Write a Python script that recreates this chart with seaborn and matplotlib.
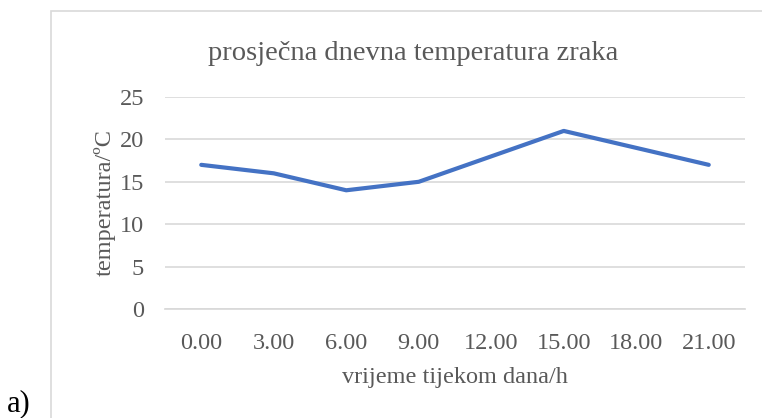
import pandas as pd
import matplotlib.pyplot as plt
import seaborn as sns
from matplotlib.patches import Rectangle

sns.set_theme(style="white")
plt.rcParams['font.family'] = ['Liberation Serif', 'DejaVu Serif']

# data
hours = ["0.00", "3.00", "6.00", "9.00", "12.00", "15.00", "18.00", "21.00"]
temps = [17, 16, 14, 15, 18, 21, 19, 17]

df = pd.DataFrame({"sat": hours, "temp": temps})

grey = "#595959"

fig = plt.figure(figsize=(7.62, 4.18), dpi=100)
ax = fig.add_axes([165/762, 1 - 309/418, 580/762, 212/418])

# chart border (excel style), runs off the right and bottom edge
fig.patches.append(Rectangle((51/762, -0.1), 1.0, 1 - 11/418 + 0.1,
                             transform=fig.transFigure, fill=False,
                             edgecolor="#D9D9D9", linewidth=1.2))

sns.lineplot(data=df, x="sat", y="temp", ax=ax, color="#4472C4",
             linewidth=3, sort=False, solid_capstyle="round")

ax.set_ylim(0, 25)
ax.set_xlim(-0.5, 7.5)
ax.set_yticks([0, 5, 10, 15, 20, 25])
ax.yaxis.grid(True, color="#D9D9D9", linewidth=1.2)
ax.set_axisbelow(True)
for s in ax.spines.values():
    s.set_visible(False)
ax.spines["bottom"].set_visible(True)
ax.spines["bottom"].set_color("#D9D9D9")
ax.tick_params(axis="both", length=0, labelsize=17.5, labelcolor=grey)
ax.tick_params(axis="x", pad=17)
ax.tick_params(axis="y", pad=15)

ax.set_xlabel("vrijeme tijekom dana/h", fontsize=17.5, color=grey, labelpad=10)
ax.set_ylabel("temperatura/ºC", fontsize=17.5, color=grey, labelpad=3)
fig.text(413/762, 1 - 53/418, "prosječna dnevna temperatura zraka",
         ha="center", va="center", fontsize=20.5, color=grey)
fig.text(7/762, 1 - 404/418, "a)", ha="left", va="center", fontsize=22,
         color="black")

plt.savefig("out.png", dpi=100)
